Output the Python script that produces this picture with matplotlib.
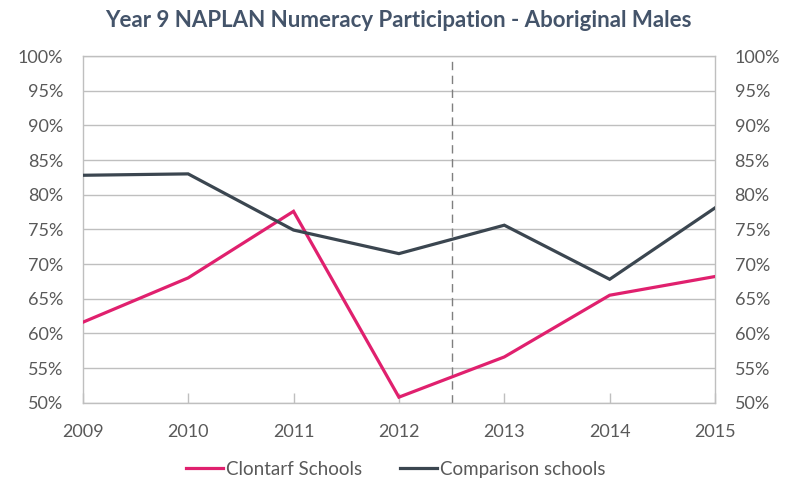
#!/usr/bin/env python3

import matplotlib
matplotlib.use("Agg")
import matplotlib.pyplot as plt
from matplotlib.ticker import FuncFormatter

years = [2009, 2010, 2011, 2012, 2013, 2014, 2015]
clontarf = [61.6, 68.0, 77.6, 50.8, 56.6, 65.5, 68.2]
comparison = [82.8, 83.0, 74.9, 71.5, 75.6, 67.8, 78.1]
yticks = list(range(50, 101, 5))
divider_year = 2012.5


def main():
    plt.rcParams["font.family"] = ["Lato", "DejaVu Sans"]
    fig = plt.figure(figsize=(7.91, 4.82), dpi=100)
    ax = fig.add_axes([0.1046, 0.1645, 0.7994, 0.7193])

    grid_c = "#bfbfbf"
    text_c = "#595959"

    ax.plot(years, clontarf, color="#e0206e", lw=2.3, label="Clontarf Schools",
            solid_joinstyle="miter", zorder=3)
    ax.plot(years, comparison, color="#3b4650", lw=2.3, label="Comparison schools",
            solid_joinstyle="miter", zorder=3)
    ax.axvline(divider_year, color="#7f7f7f", lw=1.0, ls=(0, (6, 4)), zorder=2)

    ax.set_xlim(years[0], years[-1])
    ax.set_ylim(50, 100)
    ax.set_yticks(yticks)
    ax.set_xticks(years)
    ax.yaxis.set_major_formatter(FuncFormatter(lambda v, p: f"{v:.0f}%"))
    ax.grid(axis="y", color=grid_c, lw=1.0)
    ax.set_axisbelow(True)

    for s in ("left", "right", "bottom", "top"):
        ax.spines[s].set_color(grid_c)
        ax.spines[s].set_linewidth(1.0)

    ax.tick_params(axis="y", length=0, labelsize=13, labelcolor=text_c, pad=14,
                   labelright=True, right=False)
    ax.tick_params(axis="x", direction="in", length=7, color=grid_c, width=1.0,
                   labelsize=13, labelcolor=text_c, pad=15)

    fig.suptitle("Year 9 NAPLAN Numeracy Participation - Aboriginal Males",
                 x=0.503, y=0.958, va="center", fontsize=16, fontweight="bold",
                 color="#44546a")

    fig.legend(loc="center", bbox_to_anchor=(0.5, 0.026), ncol=2, frameon=False,
               fontsize=13.5, labelcolor=text_c, handlelength=2.0, handletextpad=0.15,
               columnspacing=2.0)

    fig.savefig("out.png", dpi=100, facecolor="white")


if __name__ == "__main__":
    main()
